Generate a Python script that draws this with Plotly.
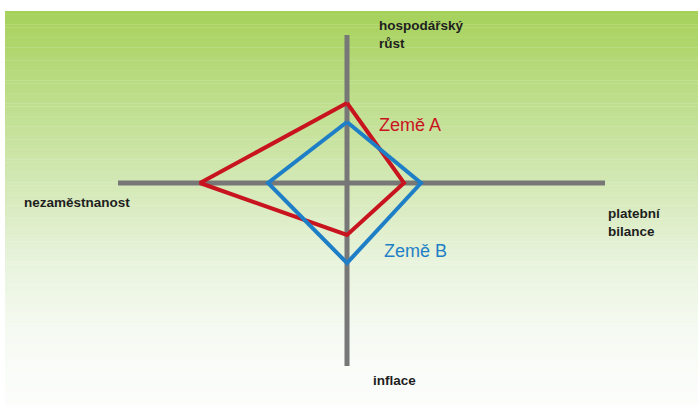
import plotly.graph_objects as go

# four indicators of the "magic square": up, right, down, left
indicators = ["hospodářský<br>růst", "platební<br>bilance", "inflace", "nezaměstnanost"]
axis_extent = [14.8, 25.8, 18.3, 22.9]

country_a = [8.0, 5.7, 5.2, 14.7]
country_b = [6.1, 7.4, 8.0, 7.9]
countries = ["Země A", "Země B"]


def square(vals):
    up, right, down, left = vals
    return [0, right, 0, -left, 0], [up, 0, -down, 0, up]


W, H = 698, 406
CX, CY = 347, 183  # pixel position of the cross
PX = 10.0  # pixels per unit


def to_data(px, py):
    return (px - CX) / PX, (CY - py) / PX


fig = go.Figure()

# background gradient (green at top fading to white)
stops = [(11, (166, 209, 90)), (100, (190, 222, 140)), (183, (211, 232, 181)),
         (260, (232, 243, 220)), (330, (245, 250, 242)), (406, (252, 253, 252))]
shapes = []
n = 120
for i in range(n):
    y0 = 11 + (H - 11) * i / n
    y1 = 11 + (H - 11) * (i + 1) / n
    ym = (y0 + y1) / 2
    for (a, ca), (b, cb) in zip(stops[:-1], stops[1:]):
        if a <= ym <= b:
            t = (ym - a) / (b - a)
            c = tuple(round(ca[k] + (cb[k] - ca[k]) * t) for k in range(3))
            break
    shapes.append(dict(type="rect", xref="paper", yref="paper", layer="below",
                       x0=5 / W, x1=1, y0=1 - y1 / H - 0.001, y1=1 - y0 / H,
                       fillcolor="rgb(%d,%d,%d)" % c, line=dict(width=0)))

# the cross
up, right, down, left = axis_extent
fig.add_trace(go.Scatter(x=[-left, right], y=[0, 0], mode="lines",
                         line=dict(color="#777777", width=5), hoverinfo="skip"))
fig.add_trace(go.Scatter(x=[0, 0], y=[up, -down], mode="lines",
                         line=dict(color="#777777", width=5), hoverinfo="skip"))

colors = ["#c8141e", "#1f7fc6"]
for name, vals, col in zip(countries, [country_a, country_b], colors):
    xs, ys = square(vals)
    fig.add_trace(go.Scatter(x=xs, y=ys, mode="lines", name=name,
                             line=dict(color=col, width=4)))

# indicator labels
label_pos = [(377, 34), (606, 222), (371, 380), (22, 202)]
for text, (px, py) in zip(indicators, label_pos):
    x, y = to_data(px, py)
    fig.add_annotation(x=x, y=y, text="<b>%s</b>" % text, showarrow=False,
                       xanchor="left", yanchor="middle", align="left",
                       font=dict(size=13.5, color="#1e1e1e"))

# country labels
for name, col, (px, py) in zip(countries, colors, [(377, 125), (382, 251)]):
    x, y = to_data(px, py)
    fig.add_annotation(x=x, y=y, text=name, showarrow=False,
                       xanchor="left", yanchor="middle",
                       font=dict(size=18, color=col))

fig.update_layout(
    width=W, height=H,
    margin=dict(l=0, r=0, t=0, b=0),
    paper_bgcolor="white", plot_bgcolor="rgba(0,0,0,0)",
    showlegend=False,
    shapes=shapes,
    font=dict(family="Liberation Sans, Arial, sans-serif"),
    xaxis=dict(range=[-CX / PX, (W - CX) / PX], visible=False, fixedrange=True),
    yaxis=dict(range=[(CY - H) / PX, CY / PX], visible=False, fixedrange=True),
)

fig.write_html("out.html", config={"displayModeBar": False},
               post_script="document.body.style.margin='0';")
